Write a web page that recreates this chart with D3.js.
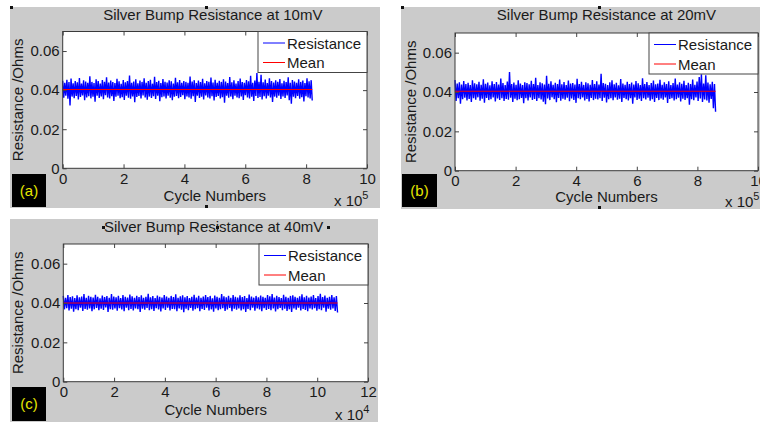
<!DOCTYPE html>
<html>
<head>
<meta charset="utf-8">
<script src="https://d3js.org/d3.v7.min.js"></script>
<style>
  body { margin: 0; background: #fff; }
  svg { display: block; font-family: "Liberation Sans", Arial, sans-serif; }
  .tick text { font-size: 15px; fill: #1a1a1a; }
  .tick line { stroke: #444; }
</style>
</head>
<body>
<div id="chart"></div>
<script>
// titles and labels
var titles = ["Silver Bump Resistance at 10mV", "Silver Bump Resistance at 20mV", "Silver Bump Resistance at 40mV"];
var panelTags = ["(a)", "(b)", "(c)"];
var xLabel = "Cycle Numbers";
var yLabel = "Resistance /Ohms";
var legendNames = ["Resistance", "Mean"];

// axes: x in units of 10^exp cycles
var xMax = [10, 10, 12];
var xExp = ["5", "5", "4"];
var xTicks = [[0, 2, 4, 6, 8, 10], [0, 2, 4, 6, 8, 10], [0, 2, 4, 6, 8, 10, 12]];
var yTicks = [0, 0.02, 0.04, 0.06];
var yMax = 0.07;

// last cycle of each run (same units as x axis)
var runEnd = [8.2, 8.6, 10.8];
// mean resistance of each run (Ohms)
var meanRes = [0.0403, 0.0404, 0.0400];

// resistance readings sampled along each run (Ohms)
var res10 = [
0.0448,0.0361,0.0437,0.0372,0.0453,0.0356,0.0441,0.0322,0.0459,0.0367,0.0435,0.0359,
0.0446,0.0370,0.0440,0.0352,0.0462,0.0365,0.0433,0.0373,0.0450,0.0348,0.0444,0.0363,
0.0438,0.0369,0.0471,0.0358,0.0442,0.0366,0.0436,0.0341,0.0455,0.0371,0.0447,0.0360,
0.0434,0.0368,0.0451,0.0354,0.0443,0.0374,0.0466,0.0362,0.0439,0.0357,0.0449,0.0369,
0.0441,0.0345,0.0436,0.0366,0.0458,0.0371,0.0445,0.0359,0.0432,0.0364,0.0452,0.0350,
0.0440,0.0372,0.0447,0.0361,0.0475,0.0356,0.0437,0.0368,0.0444,0.0338,0.0456,0.0365,
0.0435,0.0370,0.0449,0.0358,0.0442,0.0373,0.0461,0.0362,0.0438,0.0351,0.0446,0.0367,
0.0453,0.0360,0.0433,0.0369,0.0468,0.0355,0.0441,0.0371,0.0448,0.0343,0.0436,0.0364,
0.0457,0.0368,0.0443,0.0357,0.0439,0.0372,0.0450,0.0361,0.0445,0.0349,0.0434,0.0366,
0.0463,0.0370,0.0440,0.0359,0.0452,0.0365,0.0437,0.0374,0.0447,0.0353,0.0442,0.0368,
0.0438,0.0362,0.0470,0.0356,0.0444,0.0369,0.0451,0.0340,0.0436,0.0371,0.0449,0.0360,
0.0441,0.0366,0.0458,0.0352,0.0435,0.0373,0.0446,0.0363,0.0443,0.0357,0.0464,0.0369,
0.0439,0.0347,0.0453,0.0365,0.0437,0.0370,0.0448,0.0358,0.0442,0.0364,0.0456,0.0336,
0.0444,0.0371,0.0436,0.0361,0.0467,0.0367,0.0440,0.0354,0.0450,0.0372,0.0434,0.0363,
0.0447,0.0359,0.0459,0.0368,0.0441,0.0350,0.0438,0.0374,0.0452,0.0362,0.0445,0.0357,
0.0473,0.0366,0.0437,0.0345,0.0449,0.0370,0.0488,0.0360,0.0443,0.0365,0.0478,0.0352,
0.0440,0.0369,0.0454,0.0358,0.0436,0.0372,0.0461,0.0363,0.0446,0.0339,0.0439,0.0367,
0.0450,0.0361,0.0443,0.0371,0.0457,0.0355,0.0435,0.0368,0.0448,0.0360,0.0441,0.0373,
0.0466,0.0348,0.0438,0.0330,0.0452,0.0366,0.0444,0.0359,0.0437,0.0370,0.0455,0.0356,
0.0442,0.0364,0.0449,0.0342,0.0436,0.0369,0.0460,0.0362,0.0445,0.0357,0.0451,0.0347
];
var res20 = [
0.0461,0.0354,0.0443,0.0368,0.0450,0.0340,0.0438,0.0363,0.0456,0.0371,0.0441,0.0357,
0.0447,0.0365,0.0435,0.0350,0.0459,0.0369,0.0444,0.0361,0.0439,0.0373,0.0452,0.0356,
0.0437,0.0366,0.0465,0.0346,0.0442,0.0370,0.0448,0.0359,0.0434,0.0364,0.0455,0.0372,
0.0440,0.0352,0.0451,0.0367,0.0438,0.0360,0.0469,0.0369,0.0445,0.0355,0.0436,0.0365,
0.0453,0.0361,0.0502,0.0371,0.0441,0.0349,0.0448,0.0366,0.0437,0.0358,0.0460,0.0363,
0.0443,0.0370,0.0435,0.0343,0.0450,0.0368,0.0446,0.0357,0.0439,0.0372,0.0457,0.0360,
0.0441,0.0365,0.0472,0.0354,0.0436,0.0369,0.0449,0.0362,0.0444,0.0351,0.0438,0.0338,
0.0482,0.0367,0.0442,0.0359,0.0454,0.0373,0.0437,0.0364,0.0447,0.0348,0.0440,0.0370,
0.0463,0.0356,0.0439,0.0366,0.0451,0.0361,0.0435,0.0371,0.0458,0.0353,0.0443,0.0367,
0.0446,0.0360,0.0438,0.0345,0.0467,0.0369,0.0441,0.0363,0.0452,0.0372,0.0436,0.0357,
0.0449,0.0365,0.0444,0.0352,0.0437,0.0370,0.0461,0.0359,0.0440,0.0366,0.0455,0.0362,
0.0438,0.0368,0.0493,0.0355,0.0445,0.0371,0.0442,0.0347,0.0436,0.0364,0.0450,0.0369,
0.0459,0.0358,0.0439,0.0373,0.0447,0.0361,0.0434,0.0366,0.0466,0.0350,0.0443,0.0370,
0.0437,0.0363,0.0452,0.0357,0.0441,0.0368,0.0448,0.0341,0.0438,0.0372,0.0456,0.0360,
0.0444,0.0366,0.0436,0.0354,0.0470,0.0369,0.0440,0.0362,0.0451,0.0371,0.0435,0.0356,
0.0446,0.0364,0.0458,0.0349,0.0439,0.0370,0.0443,0.0359,0.0462,0.0367,0.0437,0.0361,
0.0449,0.0373,0.0441,0.0344,0.0454,0.0365,0.0436,0.0368,0.0445,0.0357,0.0468,0.0363,
0.0438,0.0371,0.0450,0.0352,0.0442,0.0366,0.0457,0.0360,0.0435,0.0369,0.0447,0.0336,
0.0440,0.0364,0.0464,0.0358,0.0437,0.0372,0.0453,0.0355,0.0476,0.0367,0.0490,0.0350,
0.0443,0.0362,0.0485,0.0357,0.0448,0.0346,0.0439,0.0365,0.0452,0.0318,0.0441,0.0300
];
var res40 = [
0.0436,0.0368,0.0427,0.0374,0.0441,0.0362,0.0430,0.0371,0.0434,0.0356,0.0425,0.0369,
0.0439,0.0364,0.0429,0.0376,0.0433,0.0360,0.0445,0.0370,0.0426,0.0366,0.0437,0.0373,
0.0431,0.0358,0.0428,0.0368,0.0442,0.0375,0.0432,0.0363,0.0424,0.0371,0.0438,0.0365,
0.0430,0.0377,0.0435,0.0354,0.0427,0.0369,0.0446,0.0366,0.0433,0.0372,0.0429,0.0361,
0.0437,0.0374,0.0425,0.0367,0.0440,0.0359,0.0431,0.0376,0.0428,0.0364,0.0443,0.0370,
0.0434,0.0362,0.0426,0.0373,0.0436,0.0368,0.0430,0.0355,0.0439,0.0371,0.0427,0.0366,
0.0432,0.0375,0.0447,0.0363,0.0429,0.0369,0.0435,0.0360,0.0425,0.0374,0.0438,0.0367,
0.0431,0.0357,0.0428,0.0372,0.0441,0.0365,0.0433,0.0376,0.0426,0.0362,0.0436,0.0370,
0.0430,0.0368,0.0444,0.0359,0.0427,0.0373,0.0434,0.0366,0.0439,0.0353,0.0429,0.0371,
0.0435,0.0364,0.0425,0.0375,0.0432,0.0361,0.0442,0.0369,0.0428,0.0374,0.0437,0.0358,
0.0426,0.0370,0.0433,0.0365,0.0440,0.0376,0.0430,0.0362,0.0436,0.0368,0.0424,0.0356,
0.0438,0.0372,0.0431,0.0363,0.0427,0.0369,0.0445,0.0374,0.0434,0.0360,0.0429,0.0367,
0.0437,0.0375,0.0426,0.0358,0.0441,0.0371,0.0432,0.0366,0.0428,0.0373,0.0439,0.0362,
0.0430,0.0368,0.0435,0.0355,0.0425,0.0370,0.0443,0.0364,0.0433,0.0376,0.0427,0.0361,
0.0436,0.0372,0.0429,0.0367,0.0438,0.0359,0.0431,0.0374,0.0426,0.0365,0.0440,0.0370,
0.0434,0.0363,0.0446,0.0373,0.0428,0.0357,0.0437,0.0369,0.0430,0.0375,0.0425,0.0364,
0.0442,0.0371,0.0432,0.0360,0.0427,0.0368,0.0436,0.0354,0.0439,0.0372,0.0431,0.0366,
0.0426,0.0376,0.0434,0.0362,0.0444,0.0370,0.0429,0.0365,0.0437,0.0358,0.0428,0.0373,
0.0433,0.0367,0.0440,0.0374,0.0425,0.0361,0.0435,0.0369,0.0447,0.0363,0.0430,0.0376,
0.0438,0.0356,0.0427,0.0371,0.0432,0.0366,0.0441,0.0373,0.0429,0.0360,0.0436,0.0352
];
var series = [res10, res20, res40];

// layout of the three panels (pixels)
var layout = [
  { bg: [10, 7, 370, 201], plot: [62.7, 367, 31.5, 168.3], tag: [12, 174, 34, 33], titleY: 20, xlabY: 201, expY: 206, ylabX: 23 },
  { bg: [401, 7, 359, 202], plot: [455, 758, 33, 170.7], tag: [402, 174, 35, 33], titleY: 20, xlabY: 202, expY: 207, ylabX: 416 },
  { bg: [10, 219, 368, 203], plot: [63.3, 368, 244, 381.7], tag: [12, 387, 34, 34], titleY: 232, xlabY: 415, expY: 420, ylabX: 23 }
];

var svg = d3.select("#chart").append("svg")
  .attr("width", 760)
  .attr("height", 426);

layout.forEach(function(L, k) {
  var g = svg.append("g");
  var l = L.plot[0], r = L.plot[1], t = L.plot[2], b = L.plot[3];

  // gray figure background
  g.append("rect")
    .attr("x", L.bg[0]).attr("y", L.bg[1])
    .attr("width", L.bg[2]).attr("height", L.bg[3])
    .attr("fill", "#cbcbcb");

  var x = d3.scaleLinear().domain([0, xMax[k]]).range([l, r]);
  var y = d3.scaleLinear().domain([0, yMax]).range([b, t]);

  // white axes area
  g.append("rect")
    .attr("x", l).attr("y", t)
    .attr("width", r - l).attr("height", b - t)
    .attr("fill", "#fff");

  // resistance trace
  var data = series[k];
  var n = data.length;
  var line = d3.line()
    .x(function(d, i) { return x(runEnd[k] * i / (n - 1)); })
    .y(function(d) { return y(d); });
  g.append("path")
    .datum(data)
    .attr("d", line)
    .attr("fill", "none")
    .attr("stroke", "#0000ff")
    .attr("stroke-width", 1.4)
    .attr("stroke-linejoin", "bevel");

  // mean line
  g.append("line")
    .attr("x1", x(0)).attr("x2", x(runEnd[k]))
    .attr("y1", y(meanRes[k])).attr("y2", y(meanRes[k]))
    .attr("stroke", "#ff0000")
    .attr("stroke-width", 1.1);

  // axes, ticks pointing inward like matlab
  var xAxis = g.append("g")
    .attr("transform", "translate(0," + b + ")")
    .call(d3.axisBottom(x).tickValues(xTicks[k]).tickSize(-4).tickPadding(3).tickFormat(d3.format("d")));
  xAxis.select(".domain").remove();
  xAxis.selectAll("text").attr("dy", "0.85em");

  var xTop = g.append("g")
    .attr("transform", "translate(0," + t + ")")
    .call(d3.axisTop(x).tickValues(xTicks[k]).tickSize(-4).tickFormat(""));
  xTop.select(".domain").remove();

  var yAxis = g.append("g")
    .attr("transform", "translate(" + l + ",0)")
    .call(d3.axisLeft(y).tickValues(yTicks).tickSize(-4).tickPadding(3)
      .tickFormat(function(d) { return d === 0 ? "0" : d3.format(".2f")(d); }));
  yAxis.select(".domain").remove();

  var yRight = g.append("g")
    .attr("transform", "translate(" + r + ",0)")
    .call(d3.axisRight(y).tickValues(yTicks).tickSize(-4).tickFormat(""));
  yRight.select(".domain").remove();

  // axes box
  g.append("rect")
    .attr("x", l).attr("y", t)
    .attr("width", r - l).attr("height", b - t)
    .attr("fill", "none")
    .attr("stroke", "#3a3a3a")
    .attr("stroke-width", 1);

  // legend in top right corner
  var lg = g.append("g").attr("transform", "translate(" + (r - 109) + "," + t + ")");
  lg.append("rect")
    .attr("width", 109).attr("height", 41)
    .attr("fill", "#fff").attr("stroke", "#444");
  var legColors = ["#0000ff", "#ff0000"];
  legendNames.forEach(function(name, j) {
    var ly = 11.5 + j * 19.5;
    lg.append("line")
      .attr("x1", 5).attr("x2", 27).attr("y1", ly).attr("y2", ly)
      .attr("stroke", legColors[j]).attr("stroke-width", 1);
    lg.append("text")
      .attr("x", 29).attr("y", ly + 5.5)
      .attr("font-size", 15).attr("fill", "#1a1a1a")
      .text(name);
  });

  // title
  g.append("text")
    .attr("x", (l + Math.min(r, 758)) / 2 + (k === 1 ? 0 : -2))
    .attr("y", L.titleY)
    .attr("text-anchor", "middle")
    .attr("font-size", 15).attr("fill", "#1a1a1a")
    .text(titles[k]);

  // x label
  g.append("text")
    .attr("x", (l + r) / 2)
    .attr("y", L.xlabY)
    .attr("text-anchor", "middle")
    .attr("font-size", 15).attr("fill", "#1a1a1a")
    .text(xLabel);

  // exponent label "x 10^n"
  var ex = g.append("text")
    .attr("x", r - 33)
    .attr("y", L.expY)
    .attr("font-size", 15).attr("fill", "#1a1a1a");
  ex.append("tspan").text("x 10");
  ex.append("tspan").attr("dy", -7).attr("font-size", 11).text(xExp[k]);

  // y label
  g.append("text")
    .attr("transform", "translate(" + L.ylabX + "," + ((t + b) / 2) + ") rotate(-90)")
    .attr("text-anchor", "middle")
    .attr("font-size", 15).attr("fill", "#1a1a1a")
    .text(yLabel);

  // panel tag
  g.append("rect")
    .attr("x", L.tag[0]).attr("y", L.tag[1])
    .attr("width", L.tag[2]).attr("height", L.tag[3])
    .attr("fill", "#000");
  g.append("text")
    .attr("x", L.tag[0] + L.tag[2] / 2)
    .attr("y", L.tag[1] + L.tag[3] / 2 + 5)
    .attr("text-anchor", "middle")
    .attr("font-size", 15).attr("fill", "#e6e600")
    .text(panelTags[k]);
});

// small selection handles left in the original figure
var handles = [[10, 6], [205, 6], [205, 205], [401, 6], [598, 6], [598, 206], [102, 226], [216, 226], [327, 226]];
svg.selectAll(".handle")
  .data(handles)
  .enter().append("rect")
  .attr("class", "handle")
  .attr("x", function(d) { return d[0]; })
  .attr("y", function(d) { return d[1]; })
  .attr("width", 3).attr("height", 3)
  .attr("fill", "#111");
</script>
</body>
</html>
